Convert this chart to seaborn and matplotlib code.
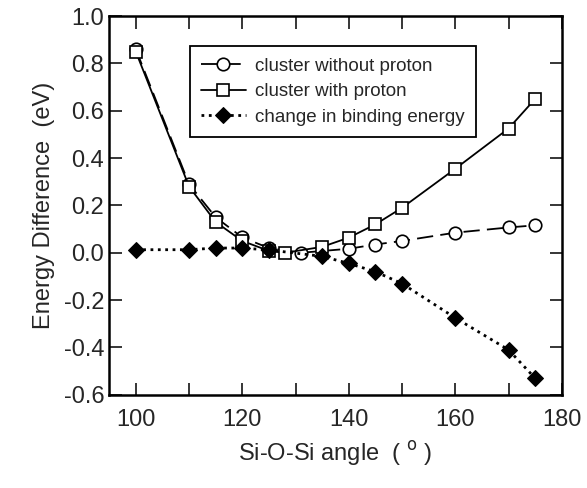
import matplotlib
matplotlib.use("Agg")
import matplotlib.pyplot as plt
from matplotlib.ticker import MultipleLocator
import pandas as pd
import seaborn as sns

# -------------------------------
# data
# -------------------------------
angle_no_proton = [100, 110, 115, 120, 125, 131, 140, 145, 150, 160, 170, 175]
e_no_proton = [0.86, 0.29, 0.15, 0.065, 0.02, 0.0, 0.017, 0.035, 0.05, 0.085, 0.107, 0.116]

angle_proton = [100, 110, 115, 120, 125, 128, 135, 140, 145, 150, 160, 170, 175]
e_proton = [0.85, 0.28, 0.13, 0.05, 0.008, 0.0, 0.025, 0.064, 0.12, 0.19, 0.355, 0.525, 0.65]

angle_binding = [100, 110, 115, 120, 125, 135, 140, 145, 150, 160, 170, 175]
e_binding = [0.013, 0.013, 0.02, 0.02, 0.012, -0.015, -0.045, -0.08, -0.13, -0.275, -0.41, -0.53]

labels = ["cluster without proton", "cluster with proton", "change in binding energy"]

sns.set_style("ticks")
plt.rcParams["font.family"] = ["Liberation Sans", "DejaVu Sans"]

fig = plt.figure(figsize=(5.87, 4.88), dpi=100)
ax = fig.add_axes([0.186, 0.191, 0.771, 0.776])

df1 = pd.DataFrame({"x": angle_no_proton, "y": e_no_proton})
df2 = pd.DataFrame({"x": angle_proton, "y": e_proton})
df3 = pd.DataFrame({"x": angle_binding, "y": e_binding})

sns.lineplot(data=df1, x="x", y="y", ax=ax, color="black", lw=1.3,
             marker="o", markersize=9, markerfacecolor="white", markeredgecolor="black",
             markeredgewidth=1.2, label=labels[0])
ax.lines[-1].set_dashes([9, 4])
sns.lineplot(data=df2, x="x", y="y", ax=ax, color="black", lw=1.3,
             marker="s", markersize=8, markerfacecolor="white", markeredgecolor="black",
             markeredgewidth=1.2, label=labels[1])
sns.lineplot(data=df3, x="x", y="y", ax=ax, color="black", lw=2.0, linestyle=":",
             marker="D", markersize=8, markerfacecolor="black", markeredgecolor="black",
             label=labels[2])

ax.set_xlim(95, 180)
ax.set_ylim(-0.6, 1.0)
ax.xaxis.set_major_locator(MultipleLocator(20))
ax.xaxis.set_minor_locator(MultipleLocator(10))
ax.yaxis.set_major_locator(MultipleLocator(0.2))
ax.set_yticks(ax.get_yticks())
ax.set_yticklabels([f"{v:.1f}" for v in ax.get_yticks()])
ax.set_ylim(-0.6, 1.0)
ax.tick_params(axis="both", which="both", direction="in", top=True, right=True,
               width=1.3, labelsize=17)
ax.tick_params(which="major", length=9)
ax.tick_params(which="minor", length=9)
ax.tick_params(axis="x", pad=10)
for s in ax.spines.values():
    s.set_linewidth(1.8)
    s.set_color("black")

ax.set_xlabel("Si-O-Si angle  ( $^{\\rm o}$ )", fontsize=17, labelpad=6)
ax.set_ylabel("Energy Difference  (eV)", fontsize=17, labelpad=6)

leg = ax.legend(loc="upper left", bbox_to_anchor=(0.157, 0.945), fontsize=13.5,
                frameon=True, fancybox=False, edgecolor="black", framealpha=1,
                handlelength=2.4, borderpad=0.6, labelspacing=0.45, handletextpad=0.5)
leg.get_frame().set_linewidth(1.3)

fig.savefig("out.png", dpi=100)
